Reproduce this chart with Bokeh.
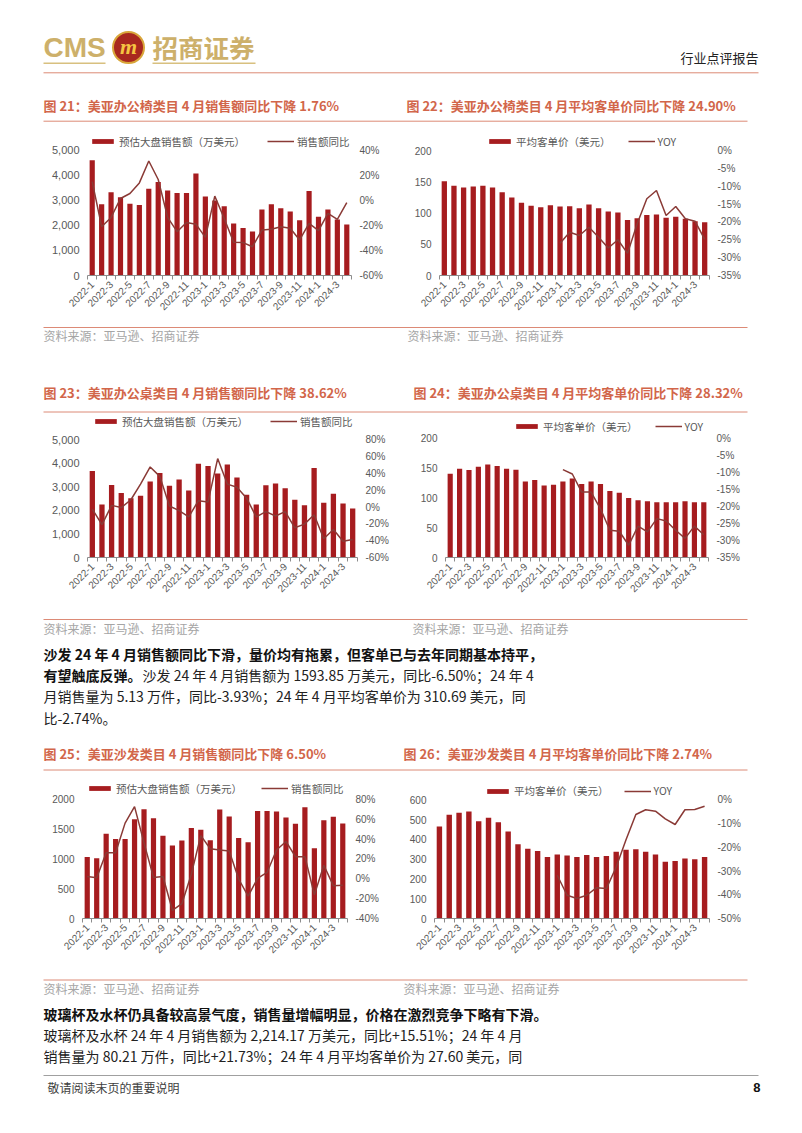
import math
from bokeh.plotting import figure
from bokeh.models import (Range1d, LinearAxis, FixedTicker, NumeralTickFormatter,
                          PrintfTickFormatter, Legend, LegendItem, Label)
from bokeh.layouts import column, row
from bokeh.embed import file_html
from bokeh.resources import INLINE

# ---------------- data ----------------
months = ["2022-1", "2022-2", "2022-3", "2022-4", "2022-5", "2022-6", "2022-7", "2022-8",
          "2022-9", "2022-10", "2022-11", "2022-12", "2023-1", "2023-2", "2023-3", "2023-4",
          "2023-5", "2023-6", "2023-7", "2023-8", "2023-9", "2023-10", "2023-11", "2023-12",
          "2024-1", "2024-2", "2024-3", "2024-4"]

# 图21 办公椅 销售额(万美元) / 同比(%)
chair_sales = [4600, 2850, 3330, 3130, 2870, 2820, 3470, 3740, 3400, 3300, 3300, 4070, 3160, 3000,
               2770, 2080, 1900, 1760, 2640, 2850, 2690, 2560, 2210, 3380, 2350, 2640, 2240, 2040]
chair_sales_yoy = [15, -21, -13.6, 1.5, 5.5, 14, 31.5, 16.7, -13.6, -25, -17.6, -19, -29.5, 3.4,
                   -14.4, -33.5, -33.7, -37, -23.7, -23.1, -21, -22.3, -31.6, -18.4, -24.2, -10.4,
                   -15.2, -1.76]
# 图22 办公椅 平均客单价(美元) / YOY(%)
chair_price = [151, 143.5, 140.8, 142.4, 143.5, 140.8, 133.3, 124.8, 116.3, 111.5, 109.3, 112.5,
               110.4, 110.9, 107.7, 113.6, 107.7, 102.4, 100.8, 89, 91.7, 97, 97.6, 92.3, 93.9,
               90.7, 86.9, 85.3]
chair_price_yoy = [None] * 12 + [-26, -22.9, -23.8, -21.5, -24.3, -27.3, -25, -28.8, -20.5, -13.5,
                                 -11.2, -18.2, -15.7, -19.1, -19.8, -24.9]
# 图23 办公桌 销售额 / 同比
desk_sales = [3670, 2255, 3077, 2745, 2520, 2626, 3223, 3594, 3050, 3316, 2851, 3979, 3886, 3568,
              3952, 3395, 2666, 2255, 3064, 3143, 2944, 2454, 2215, 3806, 2321, 2706, 2294, 2082]
desk_sales_yoy = [-2.4, -21, 2, -0.6, 8.7, 27.3, 47.7, 36.5, 1.3, -4.3, -11.7, 7.6, 6.1, 57.7,
                  27.3, 23.5, 10.6, -11.7, -5.4, -10.6, -5.4, -24.7, -20.3, -9.1, -37.7, -26.6,
                  -40.7, -38.62]
# 图24 办公桌 平均客单价 / YOY
desk_price = [140.4, 148.7, 146.5, 152.1, 156, 153.2, 148.7, 147.1, 127.6, 129.8, 120.9, 122,
              127.6, 132.6, 123.1, 127.6, 123.1, 111.4, 108.6, 99.7, 95.8, 94.2, 92.5, 92.5, 92.5,
              94.2, 92.5, 92.5]
desk_price_yoy = [None] * 12 + [-9.2, -10.5, -15.8, -15.8, -20.7, -27, -27.3, -31.4, -25.8, -27.5,
                                -23.6, -24.3, -27, -29.4, -25.8, -28.32]
# 图25 沙发 销售额 / 同比
sofa_sales = [1033, 1011, 1425, 1337, 1337, 1669, 1834, 1685, 1392, 1227, 1309, 1519, 1492, 1315,
              1829, 1713, 1354, 1282, 1807, 1807, 1796, 1696, 1591, 1867, 1182, 1652, 1707, 1593.85]
sofa_sales_yoy = [2.4, 1.1, 26.3, 26.3, 56.1, 72.7, 36.2, 1.4, 2.4, -31.7, -25.1, 4.7, 43.5, 30.3,
                  29, 28, -0.2, -17.5, 0.4, 6.4, 29, 37.6, 22.3, 22.3, -16.1, 13.7, -6.9, -6.5]
# 图26 沙发 平均客单价 / YOY
sofa_price = [465.5, 524, 534, 541, 492, 509, 486, 440, 375, 353, 341, 311, 324, 318, 311, 321,
              311, 316, 338, 348, 350, 338, 323, 287, 291, 303, 299, 310.69]
sofa_price_yoy = [None] * 12 + [-31.8, -40.2, -41.6, -40.2, -37, -37.4, -28.3, -16.8, -6.2, -4.2,
                                -4.8, -8, -10.4, -4.2, -4.1, -2.74]

# ---------------- styles ----------------
BAR = "#A61C1F"
LINE = "#8A3A36"
GOLD = "#CDB06A"
TITLE_C = "#D2664A"
RULE = "#DC8A76"
GRAY_TXT = "#595959"
SRC_C = "#A5A5A5"
AXIS_C = "#8C8C8C"
CJK = "Noto Sans CJK SC"
LAT = "Liberation Sans"
PAGE_W = 802


def panel(y0, y1):
    p = figure(width=PAGE_W, height=y1 - y0, x_range=Range1d(0, PAGE_W), y_range=Range1d(y1, y0),
               output_backend="svg", toolbar_location=None, x_axis_type=None, y_axis_type=None,
               min_border=0, min_border_left=0, min_border_right=0, min_border_top=0,
               min_border_bottom=0)
    p.outline_line_color = None
    p.grid.visible = False
    return p


def label(p, x, y, text, size, color, font=CJK, style="normal", align="left"):
    p.add_layout(Label(x=x, y=y, text=text, text_font=font, text_font_size=size,
                       text_color=color, text_font_style=style, text_align=align,
                       text_baseline="middle"))


def rule(p, x0, x1, y, color=RULE, w=1):
    p.segment(x0=[x0], y0=[y], x1=[x1], y1=[y], line_color=color, line_width=w)


def chart(L, R, FL, FR, T, B, Z, Ttop, bars, yoy, lmax, lstep, lfmt, rmin, rmax, rstep,
          bar_lab, line_lab, leg_x, leg_cy, leg_sp, lsize="11px"):
    mb = int(round(B - Z))
    Z = B - mb
    k = (Z - T) / (Z - Ttop)
    p = figure(width=R - L, height=B - T, x_range=Range1d(0.5, 28.5),
               y_range=Range1d(0, lmax * k), output_backend="svg", toolbar_location=None,
               x_axis_type=None, y_axis_type=None, min_border_left=FL - L,
               min_border_right=R - FR, min_border_top=0, min_border_bottom=mb)
    p.outline_line_color = None
    p.grid.visible = False
    p.extra_y_ranges = {"r": Range1d(rmin, rmin + (rmax - rmin) * k)}
    xs = list(range(1, 29))
    br = p.vbar(x=xs, top=bars, width=0.55, fill_color=BAR, line_color=None)
    lx = [x for x, v in zip(xs, yoy) if v is not None]
    ly = [v for v in yoy if v is not None]
    lr = p.line(x=lx, y=ly, y_range_name="r", line_color=LINE, line_width=1.5)

    xa = LinearAxis(ticker=FixedTicker(ticks=list(range(1, 29, 2)),
                                       minor_ticks=[i + 0.5 for i in range(0, 29)]),
                    major_label_overrides={i + 1: months[i] for i in range(0, 28, 2)},
                    major_label_orientation=math.pi / 4, axis_line_color=AXIS_C,
                    major_tick_line_color=None, major_tick_out=0, major_tick_in=0,
                    minor_tick_line_color=AXIS_C, minor_tick_out=4, minor_tick_in=0,
                    major_label_text_font=LAT, major_label_text_font_size="10px",
                    major_label_text_color=GRAY_TXT, major_label_standoff=3)
    p.add_layout(xa, "below")
    ya = LinearAxis(ticker=FixedTicker(ticks=list(range(0, lmax + 1, lstep))), formatter=lfmt,
                    axis_line_color=None, major_tick_line_color=None, minor_tick_line_color=None,
                    major_tick_out=0, major_tick_in=0, major_label_standoff=8,
                    major_label_text_font=LAT, major_label_text_font_size=lsize,
                    major_label_text_color=GRAY_TXT)
    p.add_layout(ya, "left")
    ra = LinearAxis(y_range_name="r", ticker=FixedTicker(ticks=list(range(rmin, rmax + 1, rstep))),
                    formatter=PrintfTickFormatter(format="%d%%"), axis_line_color=None,
                    major_tick_line_color=None, minor_tick_line_color=None, major_tick_out=0,
                    major_tick_in=0, major_label_standoff=8, major_label_text_font=LAT,
                    major_label_text_font_size="10px", major_label_text_color=GRAY_TXT)
    p.add_layout(ra, "right")

    # legend location is its bottom-left corner, measured up from the frame bottom
    leg = Legend(items=[LegendItem(label=bar_lab, renderers=[br]),
                        LegendItem(label=line_lab, renderers=[lr])],
                 orientation="horizontal", location=(leg_x - FL, Z - (leg_cy + 9.5)),
                 glyph_width=27, glyph_height=6, label_height=12, label_standoff=3,
                 spacing=leg_sp, padding=0, margin=0, border_line_color=None,
                 background_fill_alpha=0, label_text_font=CJK, label_text_font_size="10.5px",
                 label_text_color=GRAY_TXT)
    p.add_layout(leg)
    return p


SALES_LAB = "预估大盘销售额（万美元）"
PRICE_LAB = "平均客单价（美元）"
thousands = NumeralTickFormatter(format="0,0")
plain = NumeralTickFormatter(format="0")

# ---------------- page blocks ----------------
# A: header
A = panel(0, 126)
label(A, 43, 47, "CMS", "28px", GOLD, font=LAT, style="bold")
A.scatter(x=[128], y=[47], size=31, marker="circle", fill_color="#A8281F",
          line_color="#D9A63A", line_width=2)
label(A, 128, 46, "m", "22px", "#F5C542", font="Liberation Serif", style="bold italic",
      align="center")
label(A, 152, 46, "招商证券", "25.5px", GOLD, style="bold")
A.segment(x0=[43, 152], y0=[62.7, 62.7], x1=[105, 255], y1=[62.7, 62.7],
          line_color="#D8C07F", line_width=1.5)
label(A, 758, 57, "行业点评报告", "13px", "#222222", align="right")
rule(A, 43, 758, 72.3)
label(A, 43, 105, "图 21：美亚办公椅类目 4 月销售额同比下降 1.76%", "13px", TITLE_C, style="bold")
label(A, 406, 105, "图 22：美亚办公椅类目 4 月平均客单价同比下降 24.90%", "13px", TITLE_C, style="bold")
rule(A, 43, 747, 120.7)

# B: charts 21/22
c21 = chart(0, 400, 87, 351, 126, 322, 275.7, 150, chair_sales, chair_sales_yoy, 5000, 1000,
            thousands, -60, 40, 20, SALES_LAB, "销售额同比", 89, 140, 22)
c22 = chart(400, 802, 439, 709, 126, 322, 275, 150, chair_price, chair_price_yoy, 200, 50,
            plain, -35, 0, 5, PRICE_LAB, "YOY", 486, 139, 17, lsize="10px")

# C: sources + titles 23/24
C = panel(322, 415)
rule(C, 43, 747, 327)
label(C, 43, 335, "资料来源：亚马逊、招商证券", "12px", SRC_C)
label(C, 407, 335, "资料来源：亚马逊、招商证券", "12px", SRC_C)
label(C, 43, 392, "图 23：美亚办公桌类目 4 月销售额同比下降 38.62%", "13px", TITLE_C, style="bold")
label(C, 413, 392, "图 24：美亚办公桌类目 4 月平均客单价同比下降 28.32%", "13px", TITLE_C, style="bold")
rule(C, 43, 747, 411.5)

# D: charts 23/24
c23 = chart(0, 400, 87, 357, 415, 614, 566.7, 441, desk_sales, desk_sales_yoy, 5000, 1000,
            thousands, -60, 80, 20, SALES_LAB, "销售额同比", 92, 429.3, 22)
c24 = chart(400, 802, 445, 708, 415, 614, 557.3, 437.7, desk_price, desk_price_yoy, 200, 50,
            plain, -35, 0, 5, PRICE_LAB, "YOY", 513, 424.3, 17, lsize="10px")

# E: sources + paragraph + titles 25/26
E = panel(614, 772)
rule(E, 43, 747, 619)
label(E, 43, 628, "资料来源：亚马逊、招商证券", "12px", SRC_C)
label(E, 412, 628, "资料来源：亚马逊、招商证券", "12px", SRC_C)
PS = "14px"
label(E, 43, 653, "沙发 24 年 4 月销售额同比下滑，量价均有拖累，但客单已与去年同期基本持平，",
      PS, "#111111", style="bold")
label(E, 43, 674.3, "有望触底反弹。", PS, "#111111", style="bold")
label(E, 142, 674.3, "沙发 24 年 4 月销售额为 1593.85 万美元，同比-6.50%；24 年 4", PS, "#222222")
label(E, 43, 695.7, "月销售量为 5.13 万件，同比-3.93%；24 年 4 月平均客单价为 310.69 美元，同",
      PS, "#222222")
label(E, 43, 717.3, "比-2.74%。", PS, "#222222")
label(E, 43, 753.3, "图 25：美亚沙发类目 4 月销售额同比下降 6.50%", "13px", TITLE_C, style="bold")
label(E, 403, 753.3, "图 26：美亚沙发类目 4 月平均客单价同比下降 2.74%", "13px", TITLE_C, style="bold")
rule(E, 43, 747, 769.5)

# F: charts 25/26
c25 = chart(0, 400, 82, 347, 772, 972, 920, 799.3, sofa_sales, sofa_sales_yoy, 2000, 500,
            plain, -40, 80, 20, SALES_LAB, "销售额同比", 86, 788.3, 19, lsize="10px")
c26 = chart(400, 802, 434, 709, 772, 972, 918.3, 799.3, sofa_price, sofa_price_yoy, 600, 100,
            plain, -50, 0, 10, PRICE_LAB, "YOY", 484, 788.7, 15, lsize="10px")

# G: sources + paragraph + footer
G = panel(972, 1130)
rule(G, 43, 747, 979.5)
label(G, 43, 988, "资料来源：亚马逊、招商证券", "12px", SRC_C)
label(G, 403, 988, "资料来源：亚马逊、招商证券", "12px", SRC_C)
label(G, 43, 1013, "玻璃杯及水杯仍具备较高景气度，销售量增幅明显，价格在激烈竞争下略有下滑。",
      PS, "#111111", style="bold")
label(G, 43, 1034, "玻璃杯及水杯 24 年 4 月销售额为 2,214.17 万美元，同比+15.51%；24 年 4 月",
      PS, "#222222")
label(G, 43, 1055, "销售量为 80.21 万件，同比+21.73%；24 年 4 月平均客单价为 27.60 美元，同",
      PS, "#222222")
rule(G, 43, 758, 1075, color="#A0A0A0")
label(G, 47, 1087, "敬请阅读末页的重要说明", "12px", "#404040")
label(G, 760, 1087, "8", "13px", "#111111", font=LAT, style="bold", align="right")

page = column(A, row(c21, c22), C, row(c23, c24), E, row(c25, c26), G)

with open("out.html", "w") as f:
    f.write(file_html(page, INLINE))
